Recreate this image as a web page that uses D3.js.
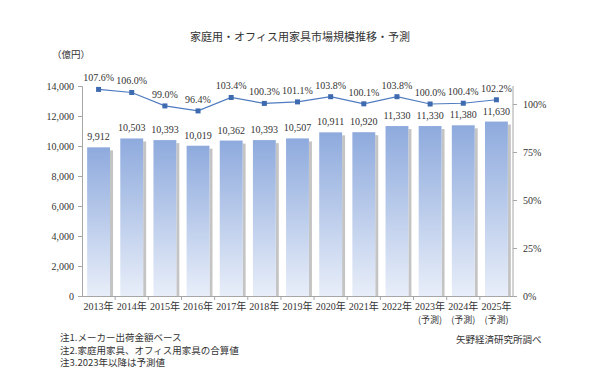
<!DOCTYPE html>
<html>
<head>
<meta charset="utf-8">
<script src="https://cdn.jsdelivr.net/npm/d3@7"></script>
<style>
body { margin: 0; background: #fff; }
text { fill: #333; }
</style>
</head>
<body>
<script>
const years = ['2013年', '2014年', '2015年', '2016年', '2017年', '2018年', '2019年', '2020年', '2021年', '2022年', '2023年', '2024年', '2025年'];
const forecast = [false, false, false, false, false, false, false, false, false, false, true, true, true];
const market = [9912, 10503, 10393, 10019, 10362, 10393, 10507, 10911, 10920, 11330, 11330, 11380, 11630];
const growth = [107.6, 106.0, 99.0, 96.4, 103.4, 100.3, 101.1, 103.8, 100.1, 103.8, 100.0, 100.4, 102.2];
const leftTicks = [0, 2000, 4000, 6000, 8000, 10000, 12000, 14000];
const rightTicks = [0, 25, 50, 75, 100];
const notes = ['注1.メーカー出荷金額ベース', '注2.家庭用家具、オフィス用家具の合算値', '注3.2023年以降は予測値'];

const serif = '"Liberation Serif", "DejaVu Serif", "Noto Sans CJK JP", serif';
const jp = '"Noto Sans CJK JP", sans-serif';

const width = 600, height = 382;
const svg = d3.select('body').append('svg').attr('width', width).attr('height', height);

const x0 = 82, x1 = 513, yBase = 296, yTop = 86;

const x = d3.scaleBand().domain(years).range([x0, x1]).paddingInner(0.31).paddingOuter(0.155);
const y = d3.scaleLinear().domain([0, 14000]).range([yBase, yTop]);
const yR = d3.scaleLinear().domain([0, 110]).range([yBase, yBase - 110 * 1.92]);

const defs = svg.append('defs');
const grad = defs.append('linearGradient').attr('id', 'barGrad').attr('x1', 0).attr('y1', 0).attr('x2', 0).attr('y2', 1);
grad.append('stop').attr('offset', '0%').attr('stop-color', '#8eaadd');
grad.append('stop').attr('offset', '100%').attr('stop-color', '#e8eef9');

// title
svg.append('text').style('font-family', jp).attr('x', 300).attr('y', 41).attr('text-anchor', 'middle')
  .attr('font-size', 11).text('家庭用・オフィス用家具市場規模推移・予測');

svg.append('text').style('font-family', jp).attr('x', 52).attr('y', 58).attr('font-size', 9.5).text('（億円）');

// bar shadows
svg.append('g').selectAll('rect').data(market).join('rect')
  .attr('x', (d, i) => x(years[i]) + x.bandwidth())
  .attr('y', d => y(d) + 3)
  .attr('width', 3)
  .attr('height', d => yBase - y(d) - 3)
  .attr('fill', '#c4c4c4');

// bars
svg.append('g').selectAll('rect').data(market).join('rect')
  .attr('x', (d, i) => x(years[i]))
  .attr('y', d => y(d))
  .attr('width', x.bandwidth())
  .attr('height', d => yBase - y(d))
  .attr('fill', 'url(#barGrad)');

// left axis
const gL = svg.append('g').attr('transform', `translate(${x0},0)`)
  .call(d3.axisLeft(y).tickValues(leftTicks).tickSize(4).tickPadding(4).tickFormat(d3.format(',')));
gL.selectAll('path, line').attr('stroke', '#a6a6a6');
gL.selectAll('text').attr('font-size', 10).attr('fill', '#333').style('font-family', serif);

// right axis
const gR = svg.append('g').attr('transform', `translate(${x1},0)`)
  .call(d3.axisRight(yR).tickValues(rightTicks).tickSize(4).tickPadding(6).tickFormat(d => d + '%'));
gR.select('path').attr('d', `M0,${yBase}V${yTop}`);
gR.selectAll('path, line').attr('stroke', '#a6a6a6');
gR.selectAll('text').attr('font-size', 10).attr('fill', '#333').style('font-family', serif);

// bottom axis
const bounds = years.map(yv => x(yv) - x.step() * x.paddingInner() / 2).slice(1);
svg.append('line').attr('x1', x0).attr('x2', x1).attr('y1', yBase + 0.5).attr('y2', yBase + 0.5).attr('stroke', '#a6a6a6');
svg.append('g').selectAll('line').data(bounds).join('line')
  .attr('x1', d => d).attr('x2', d => d).attr('y1', yBase).attr('y2', yBase + 4).attr('stroke', '#a6a6a6');

const lab = svg.append('g').selectAll('g').data(years).join('g')
  .attr('transform', d => `translate(${x(d) + x.bandwidth() / 2},0)`);
lab.append('text').attr('y', yBase + 14).attr('text-anchor', 'middle').attr('font-size', 10)
  .style('font-family', serif).text(d => d);
lab.filter((d, i) => forecast[i]).append('text').style('font-family', jp).attr('y', yBase + 27)
  .attr('text-anchor', 'middle').attr('font-size', 9).text('(予測)');

// bar labels
svg.append('g').selectAll('text').data(market).join('text')
  .attr('x', (d, i) => x(years[i]) + x.bandwidth() / 2)
  .attr('y', d => y(d) - 7)
  .attr('text-anchor', 'middle').attr('font-size', 10).style('font-family', serif)
  .text(d => d3.format(',')(d));

// growth line
const cx = (d, i) => x(years[i]) + x.bandwidth() / 2;
const line = d3.line().x(cx).y(d => yR(d));
svg.append('path').datum(growth).attr('d', line).attr('fill', 'none').attr('stroke', '#4f7cc0').attr('stroke-width', 1.2);
svg.append('g').selectAll('rect').data(growth).join('rect')
  .attr('x', (d, i) => cx(d, i) - 2.5).attr('y', d => yR(d) - 2.5)
  .attr('width', 5).attr('height', 5).attr('fill', '#3e6bb0');
svg.append('g').selectAll('text').data(growth).join('text')
  .attr('x', cx).attr('y', d => yR(d) - 8)
  .attr('text-anchor', 'middle').attr('font-size', 10).style('font-family', serif)
  .text(d => d.toFixed(1) + '%');

// notes
svg.append('g').selectAll('text').data(notes).join('text')
  .style('font-family', jp).attr('x', 60).attr('y', (d, i) => 341 + i * 12.5)
  .attr('font-size', 9.5).text(d => d);

svg.append('text').style('font-family', jp).attr('x', 456).attr('y', 343).attr('font-size', 9.5).text('矢野経済研究所調べ');
</script>
</body>
</html>
